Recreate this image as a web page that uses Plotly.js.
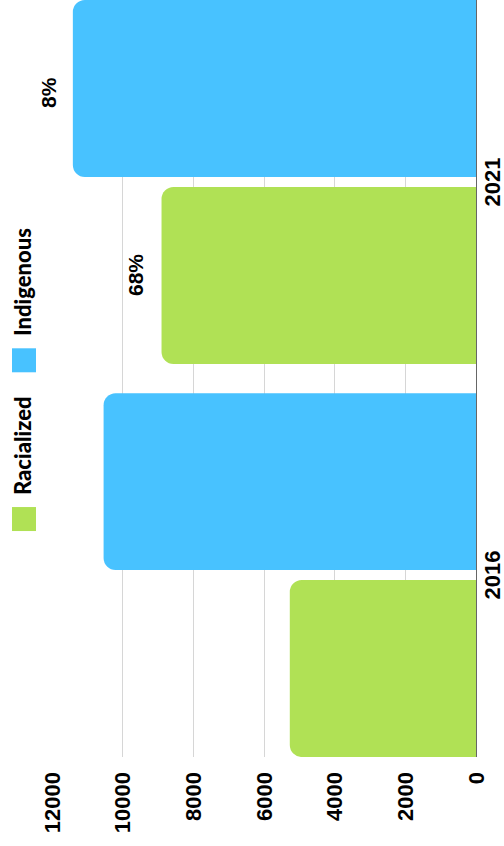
<!DOCTYPE html>
<html>
<head>
<meta charset="utf-8">
<script src="https://cdn.plot.ly/plotly-3.0.1.min.js"></script>
<style>
  html, body { margin: 0; padding: 0; width: 504px; height: 846px; overflow: hidden; background: #fff; }
  #wrap { position: absolute; left: 0; top: 0; width: 846px; height: 504px;
          transform-origin: 0 0; transform: translateY(846px) rotate(-90deg); }
  #chart { width: 846px; height: 504px; }
</style>
</head>
<body>
<div id="wrap"><div id="chart"></div></div>
<script>
// ---- data ----
const years = ['2016', '2021'];
const seriesNames = ['Racialized', 'Indigenous'];
const racialized = [5270, 8900];
const indigenous = [10540, 11410];
const changeLabels = ['68%', '8%'];   // 2016 -> 2021 change, racialized / indigenous
const yTicks = [0, 2000, 4000, 6000, 8000, 10000, 12000];

// ---- styles ----
const GREEN = '#b0e155';
const BLUE = '#48c2ff';
const tickFont = { family: 'Liberation Sans, Arial, sans-serif', size: 22, color: '#000', weight: 'bold' };
const legendFont = { family: 'Lato, sans-serif', size: 22, color: '#000', weight: 900 };
const labelFont = { family: 'Liberation Sans, Arial, sans-serif', size: 21, color: '#000', weight: 'bold' };

const traces = [
  { type: 'bar', name: seriesNames[0], x: years, y: racialized, marker: { color: GREEN },
    showlegend: false, hoverinfo: 'skip' },
  { type: 'bar', name: seriesNames[1], x: years, y: indigenous, marker: { color: BLUE },
    showlegend: false, hoverinfo: 'skip' }
];

const SHIFT = 93.4;
const i2021 = years.indexOf('2021');
const annotations = [
  { xref: 'x', yref: 'y', x: i2021, y: racialized[i2021], xshift: -SHIFT, yshift: 13,
    yanchor: 'bottom', text: changeLabels[0], showarrow: false, font: labelFont },
  { xref: 'x', yref: 'y', x: i2021, y: indigenous[i2021], xshift: SHIFT - 4, yshift: 11,
    yanchor: 'bottom', text: changeLabels[1], showarrow: false, font: labelFont },
  // custom legend text
  { xref: 'paper', yref: 'paper', x: 0.3435, y: 1.0684, xanchor: 'left', yanchor: 'middle',
    text: seriesNames[0], showarrow: false, font: legendFont },
  { xref: 'paper', yref: 'paper', x: 0.5535, y: 1.0684, xanchor: 'left', yanchor: 'middle',
    text: seriesNames[1], showarrow: false, font: legendFont }
];

const shapes = [
  { type: 'rect', xref: 'paper', yref: 'paper', x0: 0.2985, x1: 0.3302, y0: 1.0377, y1: 1.0943,
    fillcolor: GREEN, line: { width: 0 } },
  { type: 'rect', xref: 'paper', yref: 'paper', x0: 0.5082, x1: 0.5399, y0: 1.0377, y1: 1.0943,
    fillcolor: BLUE, line: { width: 0 } }
];

const layout = {
  width: 846, height: 504,
  margin: { l: 89, r: 0, t: 52, b: 28, pad: 0 },
  paper_bgcolor: '#fff', plot_bgcolor: '#fff',
  barmode: 'group', bargap: 0.049, bargroupgap: 0.0535, barcornerradius: 12,
  showlegend: false,
  xaxis: {
    type: 'category', range: [-0.4627, 1.463], fixedrange: true,
    showgrid: false, zeroline: false,
    showline: true, linecolor: '#666', linewidth: 1, layer: 'below traces',
    ticks: '', tickfont: tickFont, ticklabelstandoff: -3
  },
  yaxis: {
    range: [0, 12000], tickvals: yTicks, tickformat: 'd', fixedrange: true,
    showgrid: true, gridcolor: '#d6d6d6', gridwidth: 1, zeroline: false, showline: false,
    ticks: '', tickfont: tickFont, ticklabelstandoff: 14
  },
  annotations: annotations,
  shapes: shapes
};

Plotly.newPlot('chart', traces, layout, { staticPlot: true, displayModeBar: false });
</script>
</body>
</html>
